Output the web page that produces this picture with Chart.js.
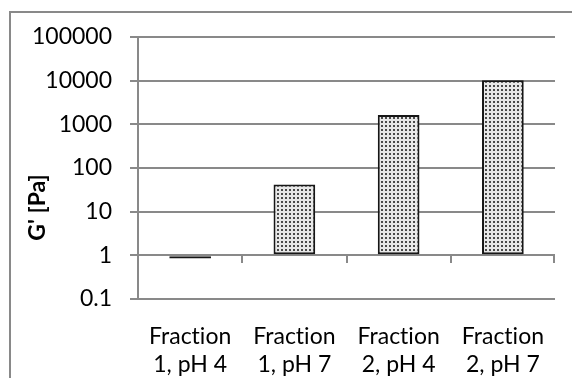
<!DOCTYPE html>
<html>
<head>
<meta charset="utf-8">
<script src="https://cdn.jsdelivr.net/npm/chart.js@4/dist/chart.umd.min.js"></script>
<style>
  html, body { margin: 0; padding: 0; background: #fff; }
  #wrap { width: 572px; height: 378px; position: relative; }
</style>
</head>
<body>
<div id="wrap"><canvas id="c" width="572" height="378"></canvas></div>
<script>
// ---- data ----
const categories = [["Fraction", "1, pH 4"], ["Fraction", "1, pH 7"], ["Fraction", "2, pH 4"], ["Fraction", "2, pH 7"]];
const gPrime = [0.85, 42, 1630, 10200];
const barBase = 1;
const yTickValues = [0.1, 1, 10, 100, 1000, 10000, 100000];
const yTickLabels = ["0.1", "1", "10", "100", "1000", "10000", "100000"];
const yTitle = "G' [Pa]";

// ---- styling ----
const FONT = "Lato, 'Open Sans', 'Liberation Sans', sans-serif";
const GRID = '#898989';

function makePattern() {
  const pc = document.createElement('canvas');
  pc.width = 4; pc.height = 4;
  const g = pc.getContext('2d');
  g.fillStyle = '#e8e8e8';
  g.fillRect(0, 0, 4, 4);
  g.fillStyle = '#4a4a4a';
  g.fillRect(1, 1, 2, 2);
  return document.getElementById('c').getContext('2d').createPattern(pc, 'repeat');
}

const framePlugin = {
  id: 'frame',
  beforeDraw(chart) {
    const c = chart.ctx;
    if ('textRendering' in c) c.textRendering = 'optimizeSpeed';
    c.save();
    c.fillStyle = '#fff';
    c.fillRect(0, 0, chart.width, chart.height);
    c.strokeStyle = GRID;
    c.lineWidth = 2;
    c.beginPath();
    c.moveTo(10, chart.height + 10);
    c.lineTo(10, 12);
    c.lineTo(chart.width + 10, 12);
    c.stroke();
    c.restore();
  },
  beforeDatasetsDraw(chart) {
    // category-boundary tick marks on the horizontal axis, which crosses at the bar base
    const c = chart.ctx;
    const xs = chart.scales.x;
    const y0 = Math.round(chart.scales.y.getPixelForValue(barBase));
    const n = categories.length;
    const bounds = [];
    for (let i = 1; i < n; i++) bounds.push((xs.getPixelForTick(i - 1) + xs.getPixelForTick(i)) / 2);
    bounds.push(chart.chartArea.right - 1);
    c.save();
    c.strokeStyle = GRID;
    c.lineWidth = 2;
    c.beginPath();
    bounds.forEach(b => { const xb = Math.round(b); c.moveTo(xb, y0); c.lineTo(xb, y0 + 8); });
    c.stroke();
    c.restore();
  },
  afterDraw(chart) {
    const c = chart.ctx;
    const ca = chart.chartArea;
    c.save();
    c.translate(38, (ca.top + chart.height) / 2);
    c.rotate(-Math.PI / 2);
    c.font = "bold 23px " + FONT;
    c.fillStyle = '#000';
    c.textAlign = 'center';
    c.textBaseline = 'middle';
    c.fillText(yTitle, 0, 0);
    c.restore();
  }
};

new Chart(document.getElementById('c'), {
  type: 'bar',
  data: {
    labels: categories,
    datasets: [{
      data: gPrime,
      base: barBase,
      backgroundColor: makePattern(),
      borderColor: '#161616',
      borderWidth: 2,
      borderSkipped: false,
      categoryPercentage: 1,
      barPercentage: 0.4
    }]
  },
  options: {
    responsive: false,
    animation: false,
    devicePixelRatio: 1,
    layout: { padding: { left: 10, top: 37, right: 17, bottom: 0 } },
    plugins: { legend: { display: false }, tooltip: { enabled: false } },
    scales: {
      x: {
        type: 'category',
        position: 'bottom',
        grid: { display: false, drawTicks: false },
        border: { display: false },
        ticks: {
          color: '#000',
          font: { family: FONT, size: 23, lineHeight: 1.2 },
          padding: 24,
          maxRotation: 0,
          autoSkip: false
        },
        afterFit(scale) { scale.height = 79; }
      },
      y: {
        type: 'logarithmic',
        min: 0.1,
        max: 100000,
        afterBuildTicks(scale) { scale.ticks = yTickValues.map(v => ({ value: v })); },
        grid: { color: GRID, lineWidth: 2, drawTicks: true, tickLength: 8 },
        border: { display: true, color: GRID, width: 2 },
        ticks: {
          color: '#000',
          font: { family: FONT, size: 23 },
          padding: 18,
          callback: (v, i) => yTickLabels[i]
        },
        afterFit(scale) { scale.width = 128; }
      }
    }
  },
  plugins: [framePlugin]
});
</script>
</body>
</html>
